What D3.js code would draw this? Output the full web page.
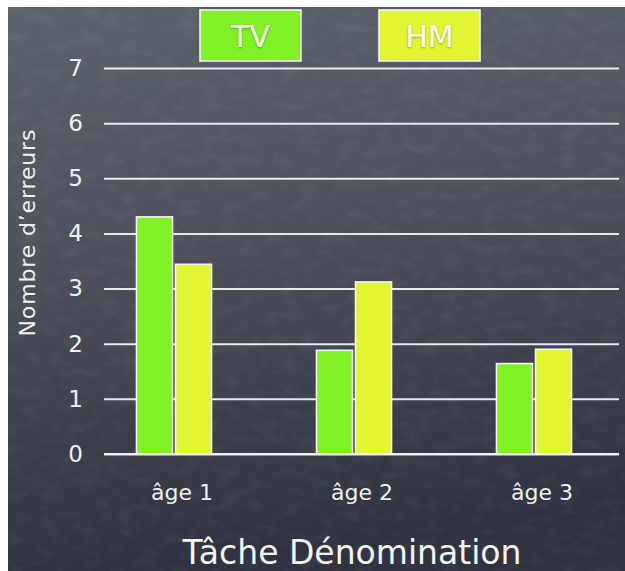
<!DOCTYPE html>
<html>
<head>
<meta charset="utf-8">
<script src="https://cdn.jsdelivr.net/npm/d3@7"></script>
<style>
  html, body { margin: 0; padding: 0; background: #ffffff; }
  svg { display: block; }
  text { font-family: "DejaVu Sans", sans-serif; }
</style>
</head>
<body>
<svg id="chart" width="625" height="571"></svg>
<script>
// Number of naming errors by age group, for the two groups
const categories = ["âge 1", "âge 2", "âge 3"];
const seriesNames = ["TV", "HM"];
const tvValues = [4.3, 1.88, 1.64];
const hmValues = [3.44, 3.12, 1.9];
const yTicks = [0, 1, 2, 3, 4, 5, 6, 7];
const seriesColors = ["#7ff125", "#e1f533"];

const yTitle = "Nombre d’erreurs";
const xTitle = "Tâche Dénomination";

const W = 625, H = 571;
const svg = d3.select("#chart");

// chalkboard background
const defs = svg.append("defs");
const grad = defs.append("linearGradient")
  .attr("id", "board").attr("x1", 0).attr("y1", 0).attr("x2", 0.15).attr("y2", 1);
grad.append("stop").attr("offset", "0%").attr("stop-color", "#5c626d");
grad.append("stop").attr("offset", "45%").attr("stop-color", "#4c515c");
grad.append("stop").attr("offset", "100%").attr("stop-color", "#2f3341");

const noise = defs.append("filter").attr("id", "chalk")
  .attr("x", 0).attr("y", 0).attr("width", "100%").attr("height", "100%");
noise.append("feTurbulence").attr("type", "fractalNoise")
  .attr("baseFrequency", "0.05 0.09").attr("numOctaves", 3).attr("seed", 7).attr("result", "n");
noise.append("feColorMatrix").attr("type", "matrix")
  .attr("values", "0 0 0 0 1  0 0 0 0 1  0 0 0 0 1  0 0 0.9 0 -0.4");

const glow = defs.append("filter").attr("id", "soft")
  .attr("x", "-10%").attr("y", "-30%").attr("width", "120%").attr("height", "160%");
glow.append("feDropShadow").attr("dx", 0).attr("dy", 1).attr("stdDeviation", 1.2)
  .attr("flood-color", "#000").attr("flood-opacity", 0.35);

svg.append("rect").attr("x", 8).attr("y", 7).attr("width", W - 8).attr("height", H - 7)
  .attr("fill", "url(#board)");
svg.append("rect").attr("x", 8).attr("y", 7).attr("width", W - 8).attr("height", H - 7)
  .attr("filter", "url(#chalk)").attr("opacity", 0.12);

// scales
const y = d3.scaleLinear().domain([0, 7]).range([454, 68]);
const x0 = d3.scaleBand().domain(categories).range([84, 624])
  .paddingInner(0.5833).paddingOuter(0.29167);
const x1 = d3.scaleBand().domain(seriesNames).range([0, x0.bandwidth()])
  .paddingInner(0.077);
const color = d3.scaleOrdinal().domain(seriesNames).range(seriesColors);

const gridLeft = 104, gridRight = 619;

// horizontal grid lines + y tick labels
const yAxis = d3.axisLeft(y).tickValues(yTicks).tickFormat(d3.format("d"))
  .tickSize(-(gridRight - gridLeft)).tickPadding(21);
const gy = svg.append("g").attr("transform", `translate(${gridLeft},0)`).call(yAxis);
gy.select(".domain").remove();
gy.selectAll(".tick line").attr("stroke", "#f2f2f2").attr("stroke-width", 2).attr("opacity", 0.95);
gy.selectAll(".tick text")
  .attr("fill", "#f0f0f0").attr("font-size", 23).attr("font-family", "DejaVu Sans, sans-serif");

// bars
const rows = categories.map((c, i) => ({ cat: c, values: [tvValues[i], hmValues[i]] }));
const groups = svg.append("g").selectAll("g").data(rows).join("g")
  .attr("transform", d => `translate(${x0(d.cat)},0)`);
groups.selectAll("rect")
  .data(d => d.values.map((v, j) => ({ key: seriesNames[j], value: v })))
  .join("rect")
  .attr("x", d => x1(d.key))
  .attr("y", d => y(d.value))
  .attr("width", x1.bandwidth())
  .attr("height", d => y(0) - y(d.value))
  .attr("fill", d => color(d.key))
  .attr("stroke", "#f4f4f4").attr("stroke-width", 1.6);

// baseline over bars
svg.append("line").attr("x1", gridLeft).attr("x2", gridRight)
  .attr("y1", y(0)).attr("y2", y(0)).attr("stroke", "#f2f2f2").attr("stroke-width", 2);

// category labels
const xAxis = d3.axisBottom(x0).tickSize(0).tickPadding(30);
const gx = svg.append("g").attr("transform", `translate(8,${y(0)})`).call(xAxis);
gx.select(".domain").remove();
gx.selectAll(".tick text").attr("fill", "#f0f0f0").attr("font-size", 22)
  .attr("font-family", "DejaVu Sans, sans-serif");

// axis titles
svg.append("text").attr("transform", "translate(35,233) rotate(-90)")
  .attr("text-anchor", "middle").attr("fill", "#f0f0f0").attr("font-size", 22)
  .attr("textLength", 207).attr("lengthAdjust", "spacing")
  .text(yTitle);
svg.append("text").attr("x", 352).attr("y", 564)
  .attr("text-anchor", "middle").attr("fill", "#f4f4f4").attr("font-size", 33)
  .text(xTitle);

// legend boxes
const legendX = d3.scaleOrdinal().domain(seriesNames).range([200, 379]);
const lg = svg.append("g").selectAll("g").data(seriesNames).join("g")
  .attr("transform", d => `translate(${legendX(d)},10)`);
lg.append("rect").attr("width", 101).attr("height", 51)
  .attr("fill", d => color(d)).attr("stroke", "#f4f4f4").attr("stroke-width", 1.6);
lg.append("text").attr("x", 50.5).attr("y", 37)
  .attr("text-anchor", "middle").attr("fill", "#fbfbf4").attr("font-size", 30)
  .attr("filter", "url(#soft)")
  .text(d => d);
</script>
</body>
</html>
